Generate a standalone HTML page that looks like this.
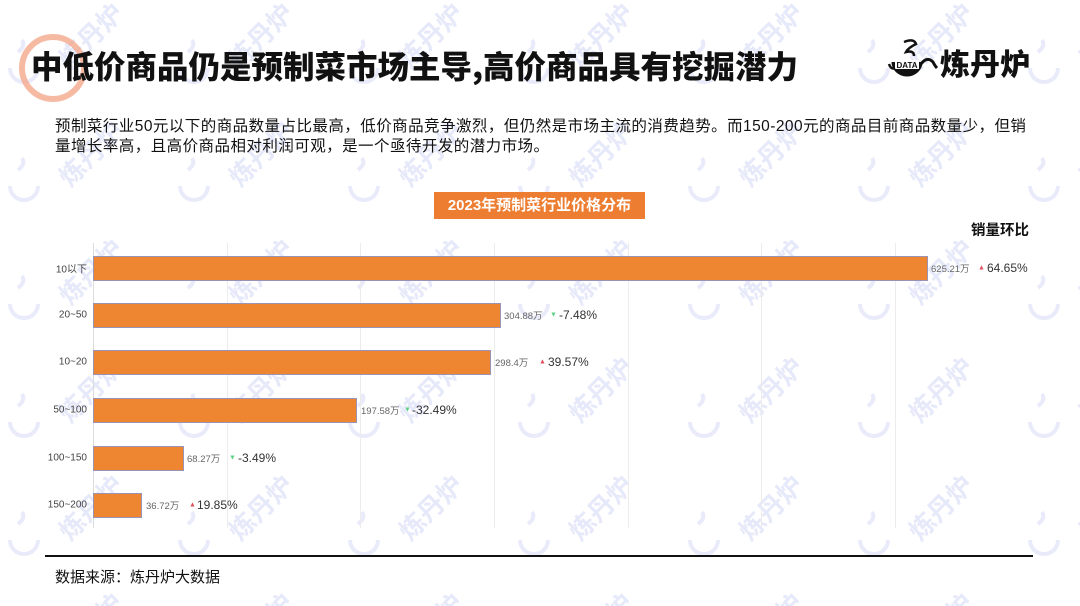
<!DOCTYPE html>
<html><head><meta charset="utf-8">
<style>
html,body{margin:0;padding:0;background:#fff;}
body{width:1080px;height:606px;position:relative;overflow:hidden;font-family:"Liberation Sans","Noto Sans CJK SC",sans-serif;}
.abs{position:absolute;white-space:nowrap;}
.cat{position:absolute;right:993px;font-size:10px;color:#444;transform:translateY(-50%);}
.bar{position:absolute;left:93px;background:#ED8531;border:1px solid #9a93b8;box-sizing:border-box;}
.val{position:absolute;font-size:9.5px;color:#666;transform:translateY(-50%);}
.tri{position:absolute;font-size:7px;transform:translateY(-50%);}
.pct{position:absolute;font-size:12px;color:#333;transform:translateY(-50%);}
.grid{position:absolute;top:243px;height:285px;width:1px;background:#ececec;}
</style></head>
<body>
<!-- watermark -->
<svg class="abs" style="left:0;top:0" width="1080" height="606">
<defs>
<pattern id="wm" x="0" y="0" width="170" height="118" patternUnits="userSpaceOnUse">
<g transform="translate(70,70) rotate(-45)" fill="#cdd2f2" font-family="Noto Sans CJK SC, sans-serif" font-size="26" font-weight="700">
<text x="0" y="0">炼丹炉</text>
</g>
<g transform="translate(10,60)" fill="none" stroke="#d3d7f4" stroke-width="4">
<path d="M0 8 A14 14 0 0 0 28 8"/>
<path d="M8 -8 q8 -6 4 -12"/>
</g>
</pattern>
</defs>
<rect x="0" y="0" width="1080" height="606" fill="url(#wm)" opacity="0.5"/>
</svg>

<!-- title ring -->
<svg class="abs" style="left:0;top:20px" width="110" height="100">
<circle cx="53" cy="48" r="31" fill="none" stroke="#f4a98c" stroke-width="6" opacity="0.8"/>
</svg>
<div class="abs" style="left:31px;top:45px;font-size:31.5px;font-weight:900;color:#111;font-family:'Noto Sans CJK SC',sans-serif;line-height:40px;">中低价商品仍是预制菜市场主导,高价商品具有挖掘潜力</div>

<!-- logo -->
<svg class="abs" style="left:884px;top:36px" width="60" height="50">
<path d="M20 6 q10 -4 12 2 q-8 4 -10 8 q8 -2 8 4" fill="none" stroke="#111" stroke-width="2.5"/>
<path d="M9 26 A14 13 0 0 0 37 26 Z" fill="#111"/>
<path d="M9 26 A14 13 0 0 0 37 26" fill="none" stroke="#111" stroke-width="3"/>
<rect x="11" y="24" width="24" height="9" fill="#fff"/>
<text x="23" y="32" text-anchor="middle" font-size="8" font-weight="700" font-family="Liberation Sans,sans-serif" fill="#111">DATA</text>
<path d="M37 28 q6 -8 12 -2 q2 4 4 6" fill="none" stroke="#111" stroke-width="3"/>
<path d="M5 28 q2 6 6 4" fill="none" stroke="#111" stroke-width="2.5"/>
</svg>
<div class="abs" style="left:940px;top:42px;font-size:30px;font-weight:900;color:#111;font-family:'Noto Sans CJK SC',sans-serif;line-height:40px;">炼丹炉</div>

<!-- paragraph -->
<div class="abs" style="left:55px;top:117px;font-size:15.5px;letter-spacing:0.45px;line-height:20px;color:#111;font-family:'Liberation Sans','Noto Sans CJK SC',sans-serif;">预制菜行业50元以下的商品数量占比最高，低价商品竞争激烈，但仍然是市场主流的消费趋势。而150-200元的商品目前商品数量少，但销<br>量增长率高，且高价商品相对利润可观，是一个亟待开发的潜力市场。</div>

<!-- chart title box -->
<div class="abs" style="left:434px;top:192px;width:211px;height:27px;background:#ED7D31;color:#fff;font-size:15px;font-weight:700;line-height:27px;text-align:center;">2023年预制菜行业价格分布</div>
<div class="abs" style="left:971px;top:221px;font-size:14.5px;font-weight:700;color:#111;line-height:20px;">销量环比</div>

<!-- grid -->
<div class="grid" style="left:93px;background:#dcdcdc"></div>
<div class="grid" style="left:227px"></div>
<div class="grid" style="left:360px"></div>
<div class="grid" style="left:494px"></div>
<div class="grid" style="left:628px"></div>
<div class="grid" style="left:761px"></div>
<div class="grid" style="left:895px"></div>

<!-- bars -->
<div class="cat" style="top:268px">10以下</div>
<div class="bar" style="top:256px;height:25px;width:835px"></div>
<div class="val" style="left:931px;top:268px">625.21万</div>
<div class="tri" style="left:978px;top:268px;color:#e0505a">▲</div>
<div class="pct" style="left:987px;top:268px">64.65%</div>

<div class="cat" style="top:315px">20~50</div>
<div class="bar" style="top:303px;height:25px;width:408px"></div>
<div class="val" style="left:504px;top:315px">304.88万</div>
<div class="tri" style="left:550px;top:315px;color:#5fd08a">▼</div>
<div class="pct" style="left:559px;top:315px">-7.48%</div>

<div class="cat" style="top:362px">10~20</div>
<div class="bar" style="top:350px;height:25px;width:398px"></div>
<div class="val" style="left:495px;top:362px">298.4万</div>
<div class="tri" style="left:539px;top:362px;color:#e0505a">▲</div>
<div class="pct" style="left:548px;top:362px">39.57%</div>

<div class="cat" style="top:410px">50~100</div>
<div class="bar" style="top:398px;height:25px;width:264px"></div>
<div class="val" style="left:361px;top:410px">197.58万</div>
<div class="tri" style="left:404px;top:410px;color:#5fd08a">▼</div>
<div class="pct" style="left:412px;top:410px">-32.49%</div>

<div class="cat" style="top:458px">100~150</div>
<div class="bar" style="top:446px;height:25px;width:91px"></div>
<div class="val" style="left:187px;top:458px">68.27万</div>
<div class="tri" style="left:229px;top:458px;color:#5fd08a">▼</div>
<div class="pct" style="left:238px;top:458px">-3.49%</div>

<div class="cat" style="top:505px">150~200</div>
<div class="bar" style="top:493px;height:25px;width:49px"></div>
<div class="val" style="left:146px;top:505px">36.72万</div>
<div class="tri" style="left:189px;top:505px;color:#e0505a">▲</div>
<div class="pct" style="left:197px;top:505px">19.85%</div>

<!-- footer -->
<div class="abs" style="left:45px;top:555px;width:988px;height:1.5px;background:#111"></div>
<div class="abs" style="left:55px;top:568px;font-size:15px;color:#111;line-height:20px;">数据来源：炼丹炉大数据</div>
</body></html>
